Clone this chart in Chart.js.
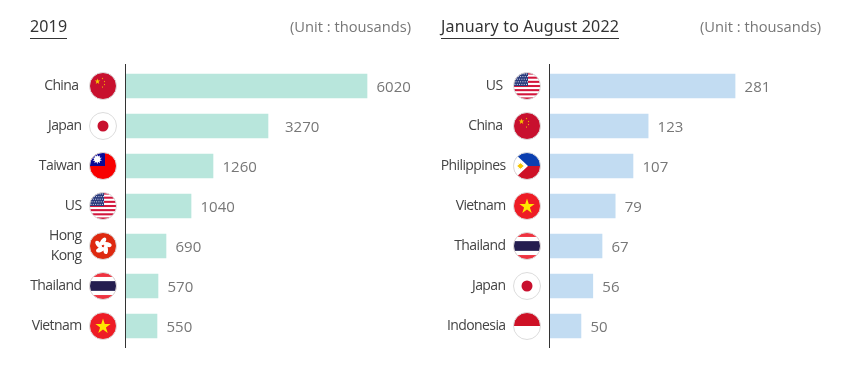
<!DOCTYPE html>
<html>
<head>
<meta charset="utf-8">
<script src="https://cdn.jsdelivr.net/npm/chart.js@4"></script>
<style>
  html, body { margin: 0; padding: 0; background: #fff; }
  #page { position: relative; width: 850px; height: 368px; overflow: hidden; font-family: "Open Sans", sans-serif; }
  canvas { position: absolute; top: 0; }
  .title { position: absolute; top: 16px; font-family: "Noto Sans", sans-serif; font-size: 16px; line-height: 21px; letter-spacing: 0.15px; color: #333; border-bottom: 1px solid #333; padding-bottom: 1px; white-space: nowrap; }
  .unit { position: absolute; top: 16px; font-size: 14.7px; line-height: 21px; color: #777; white-space: nowrap; }
</style>
</head>
<body>
<div id="page">
  <canvas id="chart2019" width="425" height="368" style="left:0"></canvas>
  <canvas id="chart2022" width="425" height="368" style="left:425px"></canvas>
  <div class="title" style="left:30px">2019</div>
  <div class="unit" style="right:439px">(Unit : thousands)</div>
  <div class="title" style="left:441px">January to August 2022</div>
  <div class="unit" style="right:29px">(Unit : thousands)</div>
</div>
<script>
const countries2019 = ["China", "Japan", "Taiwan", "US", ["Hong", "Kong"], "Thailand", "Vietnam"];
const flags2019 = ["china", "japan", "taiwan", "us", "hongkong", "thailand", "vietnam"];
const printed2019 = [6020, 3270, 1260, 1040, 690, 570, 550];
// the bars in the picture are not proportional to the printed numbers,
// so these are the lengths, in units of the top bar
const bars2019 = [6020, 3547, 2173, 1624, 999, 799, 774];

const countries2022 = ["US", "China", "Philippines", "Vietnam", "Thailand", "Japan", "Indonesia"];
const flags2022 = ["us", "china", "philippines", "vietnam", "thailand", "japan", "indonesia"];
const printed2022 = [281, 123, 107, 79, 67, 56, 50];
const bars2022 = [281, 149, 126, 99, 79, 65, 47];

const FONT = '"Open Sans", sans-serif';

function star(ctx, x, y, r, rot) {
  ctx.beginPath();
  for (let i = 0; i < 10; i++) {
    const a = (rot || 0) - Math.PI / 2 + i * Math.PI / 5;
    const d = i % 2 ? r * 0.382 : r;
    ctx.lineTo(x + Math.cos(a) * d, y + Math.sin(a) * d);
  }
  ctx.closePath();
  ctx.fill();
}

function band(ctx, r, top, bottom, color) {
  ctx.fillStyle = color;
  ctx.fillRect(-r, top, r * 2, bottom - top);
}

// each flag is drawn around 0,0 inside a circle of radius r
const flagPainters = {
  china(ctx, r) {
    band(ctx, r, -r, r, "#c8102e");
    ctx.fillStyle = "#f7c600";
    star(ctx, -5.5, -4.5, 3);
    [[-0.5, -7.5], [1.5, -4.5], [1.5, -1.5], [-0.5, 1]].forEach(p => star(ctx, p[0], p[1], 1));
  },
  japan(ctx, r) {
    band(ctx, r, -r, r, "#fff");
    ctx.fillStyle = "#c8102e";
    ctx.beginPath();
    ctx.arc(0, 0, 5.5, 0, Math.PI * 2);
    ctx.fill();
  },
  taiwan(ctx, r) {
    band(ctx, r, -r, r, "#f80000");
    ctx.fillStyle = "#0a0a96";
    ctx.fillRect(-r, -r, r + 2, r);
    ctx.fillStyle = "#fff";
    star(ctx, -r / 2 + 1, -r / 2, 5, 0);
    star(ctx, -r / 2 + 1, -r / 2, 5, Math.PI / 5);
    ctx.beginPath();
    ctx.arc(-r / 2 + 1, -r / 2, 3, 0, Math.PI * 2);
    ctx.fill();
  },
  us(ctx, r) {
    band(ctx, r, -r, r, "#fff");
    for (let i = 0; i < 7; i++) {
      const top = -r + i * (2 * r / 6.5);
      band(ctx, r, top, top + r / 6.5, "#d3163c");
    }
    ctx.fillStyle = "#2a3a7c";
    ctx.fillRect(-r, -r, r + 1, r);
    ctx.fillStyle = "#dfe3f2";
    for (let row = 0; row < 5; row++) {
      for (let col = 0; col < 6; col++) {
        ctx.fillRect(-r + 1 + col * 2.3 + (row % 2), -r + 1 + row * 2.6, 1, 1);
      }
    }
  },
  hongkong(ctx, r) {
    band(ctx, r, -r, r, "#de2910");
    ctx.fillStyle = "#fff";
    for (let i = 0; i < 5; i++) {
      const a = i * Math.PI * 2 / 5 - Math.PI / 2;
      ctx.save();
      ctx.translate(Math.cos(a) * 4.6, Math.sin(a) * 4.6);
      ctx.rotate(a + 0.6);
      ctx.beginPath();
      ctx.ellipse(0, 0, 4.4, 2.3, 0, 0, Math.PI * 2);
      ctx.fill();
      ctx.restore();
    }
  },
  thailand(ctx, r) {
    band(ctx, r, -r, r, "#ef3340");
    band(ctx, r, -r * 0.67, r * 0.67, "#fff");
    band(ctx, r, -r * 0.36, r * 0.36, "#241d4f");
  },
  vietnam(ctx, r) {
    band(ctx, r, -r, r, "#ee1c25");
    ctx.fillStyle = "#ffe800";
    star(ctx, 0, 0.5, 8);
  },
  philippines(ctx, r) {
    band(ctx, r, -r, 0, "#0b3fb0");
    band(ctx, r, 0, r, "#ce1126");
    ctx.fillStyle = "#fff";
    ctx.beginPath();
    ctx.moveTo(-r - 1, -r - 1);
    ctx.lineTo(1, 0);
    ctx.lineTo(-r - 1, r + 1);
    ctx.closePath();
    ctx.fill();
    ctx.fillStyle = "#f6c500";
    star(ctx, -6.5, 0, 3.5);
    star(ctx, -6.5, 0, 3.5, Math.PI / 5);
  },
  indonesia(ctx, r) {
    band(ctx, r, -r, 0, "#ce1126");
    band(ctx, r, 0, r, "#fff");
  }
};

// flags sit between the tick labels and the axis, value labels after the bars
const decorations = {
  id: "decorations",
  beforeDraw(chart) {
    // the category names are set tight in the reference
    chart.ctx.letterSpacing = "-0.6px";
  },
  afterDatasetsDraw(chart, args, opts) {
    const ctx = chart.ctx;
    const area = chart.chartArea;
    const yScale = chart.scales.y;

    ctx.fillStyle = "#333";
    ctx.fillRect(area.left - 1, area.top - 2, 1, area.bottom - area.top + 4);

    opts.flags.forEach((name, i) => {
      const cx = area.left - opts.flagInset;
      const cy = yScale.getPixelForValue(i);
      const r = 13.5;
      ctx.save();
      ctx.translate(cx, cy);
      ctx.beginPath();
      ctx.arc(0, 0, r, 0, Math.PI * 2);
      ctx.clip();
      flagPainters[name](ctx, r);
      ctx.restore();
      ctx.beginPath();
      ctx.arc(cx, cy, r, 0, Math.PI * 2);
      ctx.strokeStyle = "#dcdcdc";
      ctx.lineWidth = 1;
      ctx.stroke();
    });

    ctx.save();
    ctx.letterSpacing = "0px";
    ctx.font = "15px " + FONT;
    ctx.fillStyle = "#777";
    ctx.textBaseline = "middle";
    chart.getDatasetMeta(0).data.forEach((bar, i) => {
      const gap = opts.gaps[i] === undefined ? 9.5 : opts.gaps[i];
      ctx.fillText(String(opts.printed[i]), bar.x + gap, bar.y + 1.5);
    });
    ctx.restore();
  }
};

function buildChart(id, labels, bars, printed, flags, cfg) {
  return new Chart(document.getElementById(id), {
    type: "bar",
    plugins: [decorations],
    data: {
      labels: labels,
      datasets: [{
        data: bars,
        backgroundColor: cfg.color,
        barThickness: 24,
        borderWidth: 0
      }]
    },
    options: {
      indexAxis: "y",
      responsive: false,
      maintainAspectRatio: false,
      animation: false,
      layout: { padding: { top: 66, bottom: 22, left: 0, right: cfg.rightPad } },
      scales: {
        x: { display: false, min: 0, max: cfg.max },
        y: {
          afterFit(scale) {
            scale.width = cfg.axisLeft;
            // tick padding otherwise also eats into the top and bottom
            scale.paddingTop = 0;
            scale.paddingBottom = 0;
          },
          grid: { display: false, drawTicks: false },
          border: { display: false },
          ticks: {
            autoSkip: false,
            padding: 44.5,
            color: "#444",
            font: { family: FONT, size: 14, lineHeight: 1.4 },
            // a few names stop short of the others in the reference
            callback(value, i) {
              const label = this.getLabelForValue(value);
              return cfg.shortRows.includes(i) ? label + " " : label;
            }
          }
        }
      },
      plugins: {
        legend: { display: false },
        tooltip: { enabled: false },
        decorations: { flags: flags, printed: printed, gaps: cfg.gaps, flagInset: 23 }
      }
    }
  });
}

buildChart("chart2019", countries2019, bars2019, printed2019, flags2019, {
  color: "#b8e6dc", max: 7119, axisLeft: 126, rightPad: 14, gaps: { 1: 17 }, shortRows: [0]
});
buildChart("chart2022", countries2022, bars2022, printed2022, flags2022, {
  color: "#c2dcf2", max: 410, axisLeft: 125, rightPad: 30, gaps: {}, shortRows: [0, 1]
});
</script>
</body>
</html>
